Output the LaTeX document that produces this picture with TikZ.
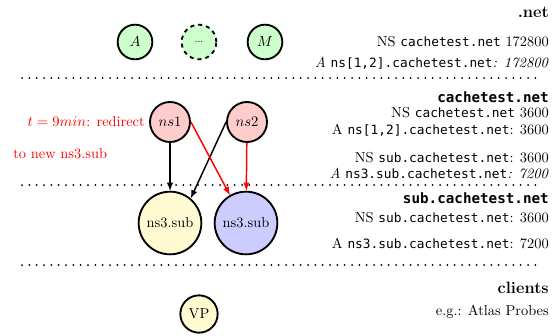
\documentclass[tikz,border=0pt]{standalone}
\usepackage{amsmath, tikz, color}
\usepackage{fontspec}
\setmonofont[Scale=0.89]{DejaVu Sans Mono}
\usetikzlibrary{positioning}
\usetikzlibrary{calc}
\usetikzlibrary{arrows}
\definecolor{rootgreen}{rgb}{0.80,1.00,0.80}
\definecolor{nspink}{rgb}{1.00,0.80,0.80}
\definecolor{oldyellow}{rgb}{1.00,0.98,0.82}
\definecolor{newblue}{rgb}{0.80,0.80,1.00}

\begin{document}
\begin{tikzpicture}
    [root/.style={circle, fill=rootgreen, draw, line width=1.4pt, minimum size=26pt, inner sep=0pt},
    auth/.style={circle, fill=nspink, draw, line width=1.4pt, minimum size=30pt, inner sep=0pt},
    sub/.style={circle, draw, line width=1.4pt, minimum size=47pt, inner sep=0pt},
    client/.style={circle, fill=oldyellow, draw, line width=1.4pt, minimum size=28pt, inner sep=0pt},
    rec/.style={anchor=east, inner sep=0pt},
    head/.style={anchor=east, inner sep=0pt, font=\fontsize{12.3}{14}\selectfont\bfseries},
    zone/.style={anchor=east, inner sep=0pt, font=\fontsize{12}{14}\selectfont\ttfamily\bfseries},
    sep/.style={line width=1.5pt, dash pattern=on 0pt off 5.5pt, line cap=round},
    font=\fontsize{10.8}{13}\selectfont,
    x=0.75pt, y=-0.75pt]
     \useasboundingbox (0,0) rectangle (559,335);
     %\draw[step=10,gray,very thin] (0,0) grid (559,335);
     % .net zone
     \node[root] (a) at (135, 42)           {$A$};
     \node[root, dashed] (dots) at (199, 42) {\tiny\textbf{...}};
     \node[root] (m) at (265, 42)           {$M$};
     \node[head] (netname) at (549, 12)     {.net};
     \node[rec] (netns) at (549, 42)        {NS \texttt{cachetest.net} 172800};
     \node[rec] (neta) at (549, 63)         {\textit{A} \texttt{ns[1,2].cachetest.net}\textit{: 172800}};
     \draw[sep] (22, 78) -- (537, 78);
     % cachetest.net zone
     \node[auth] (ns1) at (170, 122)        {$ns1$};
     \node[auth] (ns2) at (247, 122)        {$ns2$};
     \node[anchor=east, red, inner sep=0pt] (redir) at (145, 122) {$t=9min$: redirect};
     \node[anchor=west, red, inner sep=0pt] (newsub) at (13, 154) {to new ns3.sub};
     \node[zone] (cname) at (549, 97)       {cachetest.net};
     \node[rec] (cns) at (549, 113)         {NS \texttt{cachetest.net} 3600};
     \node[rec] (ca) at (549, 130)          {A \texttt{ns[1,2].cachetest.net}: 3600};
     \node[rec] (cdns) at (549, 158)        {NS \texttt{sub.cachetest.net}: 3600};
     \node[rec] (cda) at (549, 174)         {\textit{A} \texttt{ns3.sub.cachetest.net}\textit{: 7200}};
     \draw[sep] (22, 185) -- (537, 185);
     % sub.cachetest.net zone
     \node[sub, fill=oldyellow] (old) at (170, 223) {ns3.sub};
     \node[sub, fill=newblue] (new) at (246, 223)   {ns3.sub};
     \node[zone] (sname) at (549, 198)      {sub.cachetest.net};
     \node[rec] (sns) at (549, 218)         {NS \texttt{sub.cachetest.net}: 3600};
     \node[rec] (sa) at (549, 243)          {A \texttt{ns3.sub.cachetest.net}: 7200};
     \draw[sep] (22, 265) -- (537, 265);
     % clients
     \node[client] (vp) at (199, 314)       {VP};
     \node[head] (clname) at (549, 288)     {clients};
     \node[rec] (clex) at (549, 312)        {e.g.: Atlas Probes};
     \draw[-latex, line width=1.1pt] (ns1) -- (old);
     \draw[-latex, line width=1.1pt] (ns2.west) -- (old.50);
     \draw[-latex, line width=1.1pt, red] (ns1.east) -- (new.120);
     \draw[-latex, line width=1.1pt, red] (ns2) -- (new);
\end{tikzpicture}
\end{document}
